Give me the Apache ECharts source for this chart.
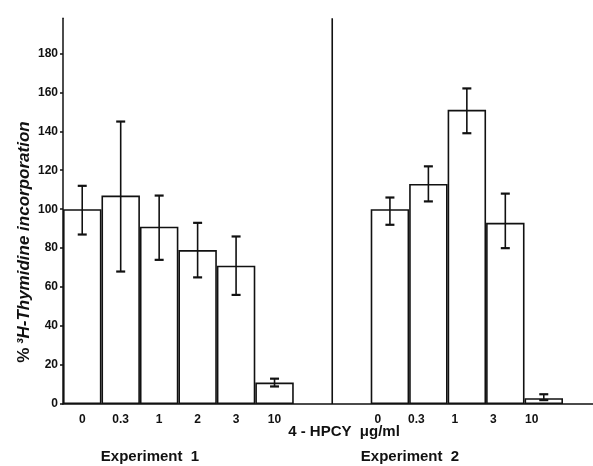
<!DOCTYPE html>
<html><head><meta charset="utf-8">
<script src="https://cdn.jsdelivr.net/npm/echarts@6/dist/echarts.min.js"></script>
<style>html,body{margin:0;padding:0;background:#fff}#c{width:593px;height:466px}</style>
</head><body><div id="c"></div>
<script>
// ---- data ----
const exp1Doses = ['0', '0.3', '1', '2', '3', '10'];
const exp1Mean  = [100, 107, 91, 79, 71, 11];
const exp1Low   = [87, 68, 74, 65, 56, 9];
const exp1High  = [112, 145, 107, 93, 86, 13];

const exp2Doses = ['0', '0.3', '1', '3', '10'];
const exp2Mean  = [100, 113, 151, 93, 3];
const exp2Low   = [92, 104, 139, 80, 2];
const exp2High  = [106, 122, 162, 108, 5];

const gapSlots = 2;       // empty slots between the two experiments
const yMax = 198;
const yInterval = 20;

const yTitle = '% ³H-Thymidine incorporation';
const xTitle = '4 - HPCY  μg/ml';
const groupTitles = ['Experiment  1', 'Experiment  2'];

// ---- build category axis and series ----
const categories = [].concat(exp1Doses, Array(gapSlots).fill(''), exp2Doses);
const exp2Start = exp1Doses.length + gapSlots;
const barData = categories.map(() => '-');
const errData = [];
exp1Mean.forEach((v, i) => { barData[i] = v; errData.push([i, exp1Low[i], exp1High[i]]); });
exp2Mean.forEach((v, i) => { barData[exp2Start + i] = v; errData.push([exp2Start + i, exp2Low[i], exp2High[i]]); });
const separatorSlot = exp1Doses.length; // line drawn at right edge of this slot

const chart = echarts.init(document.getElementById('c'), null, {renderer: 'canvas'});
const font = 'Liberation Sans';
const ink = '#111';
chart.setOption({
  animation: false,
  backgroundColor: '#fff',
  grid: [
    {left: 63, right: 30, top: 18.3, bottom: 62, containLabel: false},
    {left: 63, right: 0, top: 18.3, bottom: 62, containLabel: false}
  ],
  xAxis: [{
    type: 'category',
    gridIndex: 0,
    data: categories,
    boundaryGap: true,
    axisLine: {show: false},
    axisTick: {show: false},
    axisLabel: {
      interval: 0,
      margin: 10,
      color: ink,
      fontFamily: font,
      fontWeight: 'bold',
      fontSize: 12,
      formatter: (v, idx) => idx >= exp2Start ? '{s|' + v + '}' : v,
      rich: {s: {fontFamily: font, fontWeight: 'bold', fontSize: 12, color: ink, padding: [0, 24, 0, 0]}}
    },
    splitLine: {show: false}
  }, {
    type: 'value',
    gridIndex: 1,
    min: 0, max: 1,
    axisLine: {show: true, onZero: false, lineStyle: {color: ink, width: 1.5}},
    axisTick: {show: false},
    axisLabel: {show: false},
    splitLine: {show: false}
  }],
  yAxis: [{
    type: 'value',
    gridIndex: 0,
    min: 0, max: yMax, interval: yInterval,
    axisLine: {show: true, lineStyle: {color: ink, width: 1.5}},
    axisTick: {show: true, length: 3, lineStyle: {color: ink, width: 1.5}},
    axisLabel: {
      margin: 5, color: ink, fontFamily: font, fontWeight: 'bold', fontSize: 12,
      showMaxLabel: false,
      formatter: v => (v % yInterval === 0 ? String(v) : '')
    },
    splitLine: {show: false}
  }, {
    type: 'value', gridIndex: 1, min: 0, max: 1, show: false
  }],
  graphic: [
    {type: 'text', x: 24, y: 242, rotation: Math.PI / 2,
     style: {text: '{a|%} {b|' + yTitle.slice(2) + '}', align: 'center', verticalAlign: 'middle',
       rich: {a: {fontFamily: font, fontWeight: 'bold', fontSize: 17, fill: ink},
              b: {fontFamily: font, fontWeight: 'bold', fontStyle: 'italic', fontSize: 17, fill: ink}}}},
    {type: 'text', x: 344, y: 432,
     style: {text: xTitle, align: 'center', verticalAlign: 'middle', fontFamily: font, fontWeight: 'bold', fontSize: 15, fill: ink}},
    {type: 'text', x: 150, y: 457,
     style: {text: groupTitles[0], align: 'center', verticalAlign: 'middle', fontFamily: font, fontWeight: 'bold', fontSize: 15, fill: ink}},
    {type: 'text', x: 410, y: 457,
     style: {text: groupTitles[1], align: 'center', verticalAlign: 'middle', fontFamily: font, fontWeight: 'bold', fontSize: 15, fill: ink}}
  ],
  series: [
    {
      type: 'bar',
      xAxisIndex: 0, yAxisIndex: 0,
      data: barData,
      barWidth: '100%',
      barCategoryGap: '0%',
      barGap: '0%',
      itemStyle: {color: '#fff', borderColor: ink, borderWidth: 1.6},
      silent: true
    },
    {
      type: 'custom',
      xAxisIndex: 0, yAxisIndex: 0,
      data: errData,
      renderItem: (params, api) => {
        const lo = api.coord([api.value(0), api.value(1)]);
        const hi = api.coord([api.value(0), api.value(2)]);
        const w = 4.5;
        const st = {stroke: ink, lineWidth: 1.6};
        return {type: 'group', children: [
          {type: 'line', shape: {x1: lo[0], y1: lo[1], x2: hi[0], y2: hi[1]}, style: st},
          {type: 'line', shape: {x1: lo[0] - w, y1: lo[1], x2: lo[0] + w, y2: lo[1]}, style: {stroke: ink, lineWidth: 2.2}},
          {type: 'line', shape: {x1: hi[0] - w, y1: hi[1], x2: hi[0] + w, y2: hi[1]}, style: {stroke: ink, lineWidth: 2.2}}
        ]};
      },
      z: 3, silent: true
    },
    {
      type: 'custom',
      xAxisIndex: 0, yAxisIndex: 0,
      data: [[separatorSlot, 0, yMax]],
      renderItem: (params, api) => {
        const half = api.size([1, 0])[0] / 2;
        const b = api.coord([api.value(0), api.value(1)]);
        const t = api.coord([api.value(0), api.value(2)]);
        return {type: 'line', shape: {x1: b[0] + half, y1: b[1], x2: t[0] + half, y2: t[1]},
                style: {stroke: ink, lineWidth: 1.6}};
      },
      z: 3, silent: true
    }
  ]
});
</script>
</body></html>
